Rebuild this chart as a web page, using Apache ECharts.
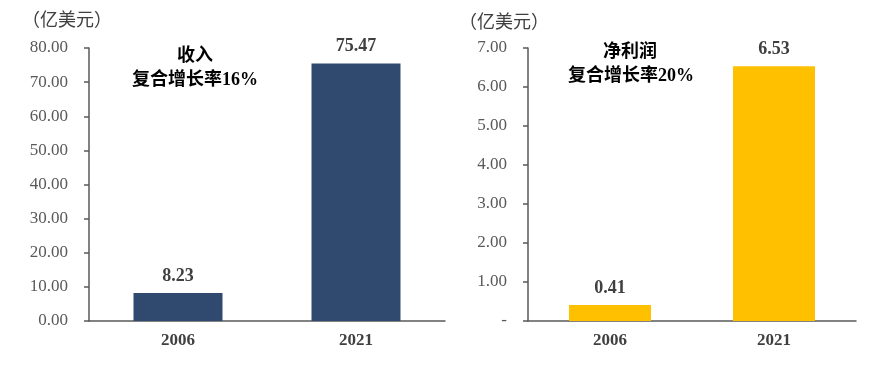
<!DOCTYPE html>
<html>
<head>
<meta charset="utf-8">
<script src="https://cdn.jsdelivr.net/npm/echarts@6/dist/echarts.min.js"></script>
<style>html,body{margin:0;padding:0;background:#fff}#c{width:879px;height:367px}</style>
</head>
<body>
<div id="c"></div>
<script>
var categories = ['2006', '2021'];
var revenue = [8.23, 75.47];
var netProfit = [0.41, 6.53];
var revenueTicks = ['0.00','10.00','20.00','30.00','40.00','50.00','60.00','70.00','80.00'];
var profitTicks = ['-','1.00','2.00','3.00','4.00','5.00','6.00','7.00'];
var unitLabel = '（亿美元）';
var revenueNote = ['收入', '复合增长率16%'];
var profitNote = ['净利润', '复合增长率20%'];

var FONT = 'Liberation Serif, "Noto Sans CJK SC", serif';
var chart = echarts.init(document.getElementById('c'));
function yAx(gi, max, interval, ticks) {
  return {
    type: 'value', gridIndex: gi, min: 0, max: max, interval: interval,
    axisLine: {show: true, lineStyle: {color: '#595959', width: 1.5}},
    axisTick: {show: true, length: 5, lineStyle: {color: '#595959', width: 1.5}},
    splitLine: {show: false},
    axisLabel: {
      margin: 21, color: '#595959', fontFamily: FONT, fontSize: 17,
      formatter: function (v) { return ticks[Math.round(v / interval)]; }
    }
  };
}
function xAx(gi) {
  return {
    type: 'category', gridIndex: gi, data: categories,
    axisLine: {lineStyle: {color: '#595959', width: 1.5}},
    axisTick: {show: false},
    axisLabel: {margin: 11, color: '#404040', fontFamily: FONT, fontSize: 17, fontWeight: 'bold'}
  };
}
function lbl() {
  return {show: true, position: 'top', distance: 8, color: '#404040', fontFamily: FONT,
    fontSize: 18, fontWeight: 'bold', formatter: function (p) { return p.value.toFixed(2); }};
}
var NOTE_FONT = 'bold 18px Liberation Serif, "Noto Sans CJK SC"';
chart.setOption({
  animation: false,
  grid: [
    {left: 89, right: 434, top: 48, bottom: 46},
    {left: 528, right: 23, top: 48, bottom: 46}
  ],
  xAxis: [xAx(0), xAx(1)],
  yAxis: [yAx(0, 80, 10, revenueTicks), yAx(1, 7, 1, profitTicks)],
  series: [
    {type: 'bar', xAxisIndex: 0, yAxisIndex: 0, data: revenue, barWidth: '50%',
     itemStyle: {color: '#2F4A6E'}, label: lbl()},
    {type: 'bar', xAxisIndex: 1, yAxisIndex: 1, data: netProfit, barWidth: '50%',
     itemStyle: {color: '#FFC000'}, label: lbl()}
  ],
  graphic: [
    {type: 'text', left: 22, top: 10, style: {text: unitLabel, fill: '#404040', font: '18px "Noto Sans CJK SC"'}},
    {type: 'text', left: 459, top: 12, style: {text: unitLabel, fill: '#404040', font: '18px "Noto Sans CJK SC"'}},
    {type: 'text', x: 195, y: 56, style: {text: revenueNote[0], fill: '#000', align: 'center', verticalAlign: 'middle', font: NOTE_FONT}},
    {type: 'text', x: 195, y: 80, style: {text: revenueNote[1], fill: '#000', align: 'center', verticalAlign: 'middle', font: NOTE_FONT}},
    {type: 'text', x: 630, y: 52, style: {text: profitNote[0], fill: '#000', align: 'center', verticalAlign: 'middle', font: NOTE_FONT}},
    {type: 'text', x: 631, y: 76, style: {text: profitNote[1], fill: '#000', align: 'center', verticalAlign: 'middle', font: NOTE_FONT}}
  ]
});
</script>
</body>
</html>
